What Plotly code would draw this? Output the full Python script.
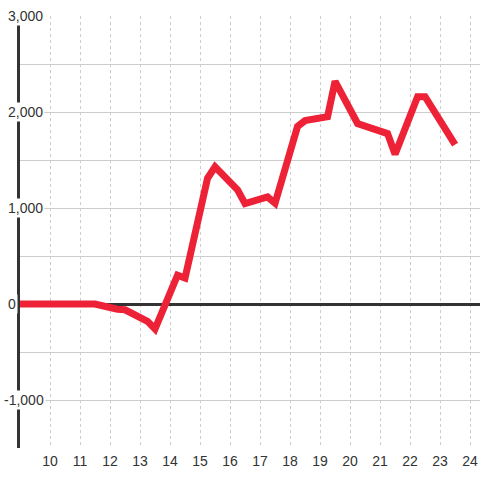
import plotly.graph_objects as go

# time of day (hours) and running value
hours = [9, 11.5, 12.25, 12.5, 13.25, 13.5, 14.25, 14.5, 15.25, 15.5, 16.25, 16.5,
         17.25, 17.5, 18.25, 18.5, 19.25, 19.5, 20.25, 21.25, 21.5, 22.25, 22.5, 23.5]
values = [0, 0, -55, -60, -180, -260, 300, 270, 1310, 1430, 1190, 1045,
          1115, 1050, 1850, 1910, 1950, 2320, 1880, 1775, 1560, 2160, 2160, 1660]

x_ticks = list(range(10, 25))
y_ticks = [-1000, 0, 1000, 2000, 3000]
y_labels = ["-1,000", "0", "1,000", "2,000", "3,000"]

FONT = dict(family="Liberation Sans, Arial", size=14, color="#333")

fig = go.Figure()
fig.add_trace(go.Scatter(
    x=hours, y=values, mode="lines",
    line=dict(color="#ee2236", width=7),
    hoverinfo="skip", cliponaxis=False,
))

# y labels sit on top of the axis line with a white box behind them
for v, lab in zip(y_ticks, y_labels):
    fig.add_annotation(
        x=0, y=v, xref="paper", yref="y", text=lab, showarrow=False,
        xanchor="left", yanchor="middle", bgcolor="white", borderpad=1,
        xshift=-14 - (4 if lab.startswith("-") else 0),
        font=FONT,
    )

fig.update_layout(
    width=480, height=480,
    margin=dict(l=20, r=0, t=16, b=32, autoexpand=False),
    paper_bgcolor="white", plot_bgcolor="white",
    showlegend=False,
    font=FONT,
)
fig.update_xaxes(
    range=[9, 24.33], tickvals=x_ticks, showgrid=True, automargin=False,
    gridcolor="#cccccc", griddash="3px,3px", gridwidth=1,
    zeroline=False, showline=False, ticks="", ticklen=0,
    tickfont=FONT, ticklabelstandoff=3,
)
fig.update_yaxes(
    range=[-1500, 3000], dtick=500, showticklabels=False, automargin=False,
    gridcolor="#cccccc", gridwidth=1,
    zeroline=True, zerolinecolor="#333", zerolinewidth=3,
    showline=True, linecolor="#333", linewidth=3, ticks="",
)

# drop the default 8px body margin so the chart fills the window
fig.write_html(
    "out.html",
    config={"displayModeBar": False},
    post_script="document.body.style.margin = '0';",
)
